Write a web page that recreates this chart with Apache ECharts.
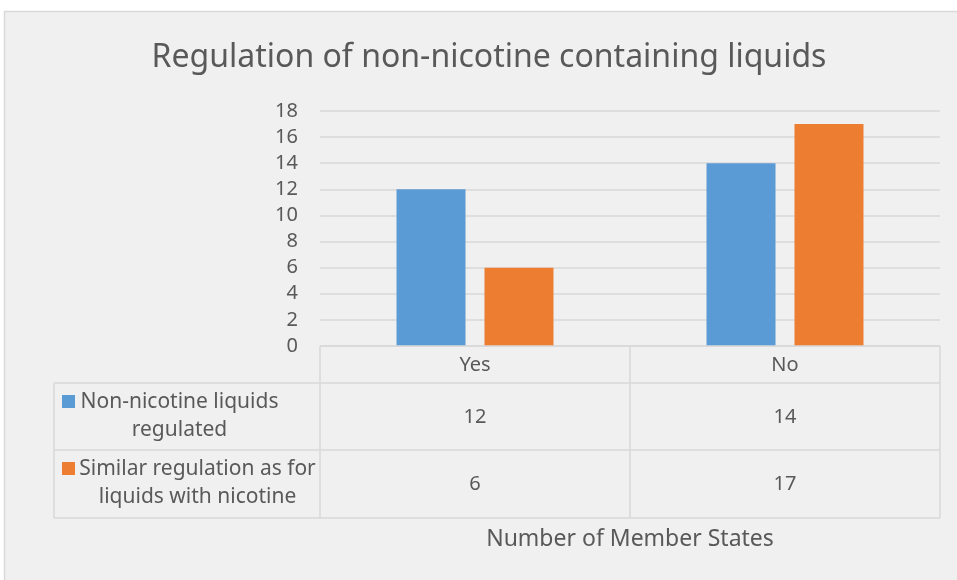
<!DOCTYPE html>
<html><head><meta charset="utf-8">
<script src="https://cdn.jsdelivr.net/npm/echarts@6/dist/echarts.min.js"></script>
<style>html,body{margin:0;padding:0;background:#fff}#c{width:957px;height:580px}</style>
</head><body><div id="c"></div>
<script>
const titleText = 'Regulation of non-nicotine containing liquids';
const categories = ['Yes', 'No'];
const seriesLabels = [['Non-nicotine liquids', 'regulated'], ['Similar regulation as for', 'liquids with nicotine']];
const regulated = [12, 14];
const similar = [6, 17];
const yMin = 0, yMax = 18, yInterval = 2;
const xTitle = 'Number of Member States';
const colors = ['#5B9BD5', '#ED7D31'];
const seriesValues = [regulated, similar];

const FONT = 'Noto Sans';
const TXT = '#595959';
const LINE = '#d9d9d9';

const chart = echarts.init(document.getElementById('c'), null, {renderer: 'canvas'});
const gridL = 320, gridR = 940, gridT = 111, gridB = 346;

chart.setOption({
  backgroundColor: '#ffffff',
  animation: false,
  textStyle: {fontFamily: FONT},
  grid: {left: gridL, right: 957 - gridR, top: gridT, bottom: 580 - gridB, containLabel: false},
  xAxis: {
    type: 'category', data: categories,
    axisLine: {show: false}, axisTick: {show: false},
    axisLabel: {color: TXT, fontSize: 20, fontFamily: FONT, margin: 9}
  },
  yAxis: {
    type: 'value', min: yMin, max: yMax, interval: yInterval,
    axisLine: {show: false}, axisTick: {show: false},
    axisLabel: {color: TXT, fontSize: 20, fontFamily: FONT, margin: 22},
    splitLine: {lineStyle: {color: LINE, width: 1.5}}
  },
  series: seriesValues.map((v, i) => ({
    type: 'bar', name: seriesLabels[i].join(' '), data: v,
    barWidth: 69, barGap: '27.5%',
    itemStyle: {color: colors[i]}
  }))
});

const cx = categories.map(c => chart.convertToPixel({xAxisIndex: 0}, c));
const g = [];
g.push({type: 'rect', z: -100, silent: true, shape: {x: 4.5, y: 11.5, width: 960, height: 600}, style: {fill: '#f0f0f0', stroke: LINE, lineWidth: 1.5}});
g.push({type: 'text', z: 10, style: {text: titleText, x: 489, y: 58, textAlign: 'center', textVerticalAlign: 'middle', fill: TXT, font: '32px "' + FONT + '"'}});
function line(x1, y1, x2, y2) {
  g.push({type: 'line', z: 5, silent: true, shape: {x1, y1, x2, y2}, style: {stroke: LINE, lineWidth: 1.5}});
}
const rows = [346, 383, 450, 518];
const tableL = 54;
const mid = (cx[0] + cx[1]) / 2;
line(gridL, rows[0], gridR, rows[0]);
for (let i = 1; i < rows.length; i++) line(tableL, rows[i], gridR, rows[i]);
line(tableL, rows[1], tableL, rows[3]);
[gridL, mid, gridR].forEach(x => line(x, rows[0], x, rows[3]));

const labelCenters = [179.5, 197.5];
const rowTextY = [[402, 430], [469, 497]];
const valueY = [417, 484];
seriesLabels.forEach((lbls, i) => {
  g.push({type: 'rect', z: 10, shape: {x: 62, y: rowTextY[i][0] - 7, width: 13, height: 13}, style: {fill: colors[i]}});
  lbls.forEach((t, j) => {
    g.push({type: 'text', z: 10, style: {text: t, x: labelCenters[i], y: rowTextY[i][j], textAlign: 'center', textVerticalAlign: 'middle', fill: TXT, font: '21px "' + FONT + '"'}});
  });
  seriesValues[i].forEach((v, k) => {
    g.push({type: 'text', z: 10, style: {text: String(v), x: cx[k], y: valueY[i], textAlign: 'center', textVerticalAlign: 'middle', fill: TXT, font: '20px "' + FONT + '"'}});
  });
});
g.push({type: 'text', z: 10, style: {text: xTitle, x: mid, y: 539, textAlign: 'center', textVerticalAlign: 'middle', fill: TXT, font: '23px "' + FONT + '"'}});
chart.setOption({graphic: g});
</script>
</body></html>
